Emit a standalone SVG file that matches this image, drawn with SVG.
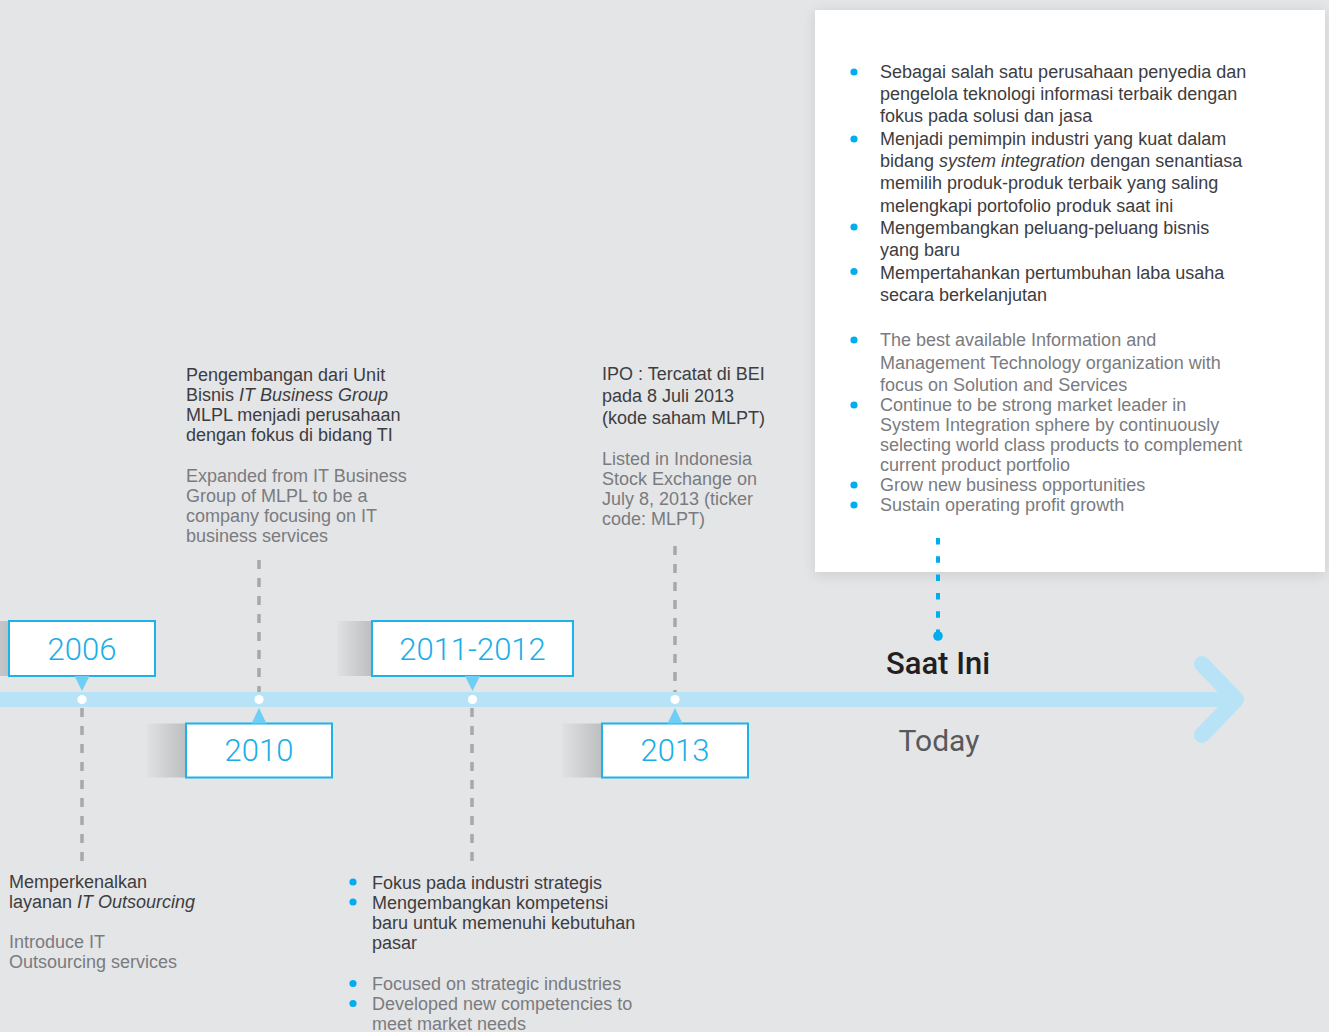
<svg xmlns="http://www.w3.org/2000/svg" width="1329" height="1032" viewBox="0 0 1329 1032">
<defs>
<style>
.t{font-family:"Liberation Sans",Arial,sans-serif;font-size:18px;fill:#3d3d3f}
.g{font-family:"Liberation Sans",Arial,sans-serif;font-size:18px;fill:#7a7b7e}
.yr{font-family:Roboto,"DejaVu Sans",sans-serif;font-size:31px;font-weight:300;fill:#1aaee8;text-anchor:middle}
.box{fill:#fff;stroke:#1cb2ea;stroke-width:2}
.ptr{fill:#6dcff6}
.dot{fill:#fff}
.bul{fill:#00aeef}
.dash{stroke:#a7a8aa;stroke-width:3.5;stroke-dasharray:9 9;fill:none}
</style>
<linearGradient id="sh" x1="0" y1="0" x2="1" y2="0">
<stop offset="0" stop-color="#e0e1e3"/>
<stop offset="1" stop-color="#bdbec0"/>
</linearGradient>
<filter id="bs" x="-10%" y="-10%" width="120%" height="120%">
<feGaussianBlur stdDeviation="7"/>
</filter>
</defs>
<rect x="0" y="0" width="1329" height="1032" fill="#e4e5e7"/>

<g id="timeline">
<rect x="0" y="692" width="1232" height="15" fill="#b8e3f7"/>
<path d="M1202,664 L1236,699.5 L1202,735" fill="none" stroke="#b8e3f7" stroke-width="16" stroke-linecap="round" stroke-linejoin="round"/>
</g>

<g id="connectors">
<line class="dash" x1="82" y1="708" x2="82" y2="862"/>
<line class="dash" x1="259" y1="560" x2="259" y2="692"/>
<line class="dash" x1="472" y1="708" x2="472" y2="862"/>
<line class="dash" x1="675" y1="546" x2="675" y2="692"/>
</g>

<g id="today-box">
<rect x="815" y="12" width="510" height="563" fill="#000" opacity="0.1" filter="url(#bs)"/>
<rect x="815" y="10" width="510" height="562" fill="#fff"/>
<circle class="bul" cx="854" cy="72" r="3.6"/>
<circle class="bul" cx="854" cy="139" r="3.6"/>
<circle class="bul" cx="854" cy="227" r="3.6"/>
<circle class="bul" cx="854" cy="271.5" r="3.6"/>
<text class="t" x="880" y="78">Sebagai salah satu perusahaan penyedia dan</text>
<text class="t" x="880" y="100">pengelola teknologi informasi terbaik dengan</text>
<text class="t" x="880" y="122">fokus pada solusi dan jasa</text>
<text class="t" x="880" y="144.5">Menjadi pemimpin industri yang kuat dalam</text>
<text class="t" x="880" y="167">bidang <tspan font-style="italic">system integration</tspan> dengan senantiasa</text>
<text class="t" x="880" y="189">memilih produk-produk terbaik yang saling</text>
<text class="t" x="880" y="211.5">melengkapi portofolio produk saat ini</text>
<text class="t" x="880" y="234">Mengembangkan peluang-peluang bisnis</text>
<text class="t" x="880" y="256">yang baru</text>
<text class="t" x="880" y="278.5">Mempertahankan pertumbuhan laba usaha</text>
<text class="t" x="880" y="300.5">secara berkelanjutan</text>
<circle class="bul" cx="854" cy="340" r="3.6"/>
<circle class="bul" cx="854" cy="405" r="3.6"/>
<circle class="bul" cx="854" cy="485" r="3.6"/>
<circle class="bul" cx="854" cy="505" r="3.6"/>
<text class="g" x="880" y="346">The best available Information and</text>
<text class="g" x="880" y="368.5">Management Technology organization with</text>
<text class="g" x="880" y="391">focus on Solution and Services</text>
<text class="g" x="880" y="411">Continue to be strong market leader in</text>
<text class="g" x="880" y="431">System Integration sphere by continuously</text>
<text class="g" x="880" y="451">selecting world class products to complement</text>
<text class="g" x="880" y="471">current product portfolio</text>
<text class="g" x="880" y="491">Grow new business opportunities</text>
<text class="g" x="880" y="511">Sustain operating profit growth</text>
</g>

<g id="today">
<path d="M938,538 L938,636" stroke="#00aeef" stroke-width="4" stroke-dasharray="6.5 11.8" fill="none"/>
<circle cx="938" cy="636" r="4.8" fill="#00aeef"/>
<text x="938" y="674" font-family="Roboto,'DejaVu Sans',sans-serif" font-size="31" font-weight="500" fill="#231f20" text-anchor="middle">Saat Ini</text>
<text x="939" y="751" font-family="Roboto,'DejaVu Sans',sans-serif" font-size="30" fill="#58595b" text-anchor="middle">Today</text>
</g>

<g id="y2006">
<rect x="-29" y="621" width="38" height="55" fill="url(#sh)"/>
<rect class="box" x="9" y="621" width="146" height="55"/>
<text class="yr" x="82" y="660">2006</text>
<polygon class="ptr" points="74.5,676 89.5,676 82,691"/>
<circle class="dot" cx="82" cy="699.5" r="4.6"/>
<text class="t" x="9" y="888">Memperkenalkan</text>
<text class="t" x="9" y="908">layanan <tspan font-style="italic">IT Outsourcing</tspan></text>
<text class="g" x="9" y="948">Introduce IT</text>
<text class="g" x="9" y="968">Outsourcing services</text>
</g>

<g id="y2010">
<rect x="147" y="723.5" width="39" height="54" fill="url(#sh)"/>
<rect class="box" x="186" y="723.5" width="146" height="54"/>
<text class="yr" x="259" y="761">2010</text>
<polygon class="ptr" points="251.5,723.5 266.5,723.5 259,708"/>
<circle class="dot" cx="259" cy="699.5" r="4.6"/>
<text class="t" x="186" y="380.5">Pengembangan dari Unit</text>
<text class="t" x="186" y="400.5">Bisnis <tspan font-style="italic">IT Business Group</tspan></text>
<text class="t" x="186" y="420.5">MLPL menjadi perusahaan</text>
<text class="t" x="186" y="440.5">dengan fokus di bidang TI</text>
<text class="g" x="186" y="481.5">Expanded from IT Business</text>
<text class="g" x="186" y="501.5">Group of MLPL to be a</text>
<text class="g" x="186" y="521.5">company focusing on IT</text>
<text class="g" x="186" y="541.5">business services</text>
</g>

<g id="y2011">
<rect x="337" y="621" width="35" height="55" fill="url(#sh)"/>
<rect class="box" x="372" y="621" width="201" height="55"/>
<text class="yr" x="472.5" y="660">2011-2012</text>
<polygon class="ptr" points="465,676 480,676 472.5,691"/>
<circle class="dot" cx="472.5" cy="699.5" r="4.6"/>
<circle class="bul" cx="353" cy="882" r="3.6"/>
<circle class="bul" cx="353" cy="902" r="3.6"/>
<text class="t" x="372" y="888.5">Fokus pada industri strategis</text>
<text class="t" x="372" y="908.5">Mengembangkan kompetensi</text>
<text class="t" x="372" y="928.5">baru untuk memenuhi kebutuhan</text>
<text class="t" x="372" y="948.5">pasar</text>
<circle class="bul" cx="353" cy="983.5" r="3.6"/>
<circle class="bul" cx="353" cy="1003.5" r="3.6"/>
<text class="g" x="372" y="989.5">Focused on strategic industries</text>
<text class="g" x="372" y="1009.5">Developed new competencies to</text>
<text class="g" x="372" y="1029.5">meet market needs</text>
</g>

<g id="y2013">
<rect x="562" y="723.5" width="40" height="54" fill="url(#sh)"/>
<rect class="box" x="602" y="723.5" width="146" height="54"/>
<text class="yr" x="675" y="761">2013</text>
<polygon class="ptr" points="667.5,723.5 682.5,723.5 675,708"/>
<circle class="dot" cx="675" cy="699.5" r="4.6"/>
<text class="t" x="602" y="380">IPO : Tercatat di BEI</text>
<text class="t" x="602" y="402">pada 8 Juli 2013</text>
<text class="t" x="602" y="424">(kode saham MLPT)</text>
<text class="g" x="602" y="465">Listed in Indonesia</text>
<text class="g" x="602" y="485">Stock Exchange on</text>
<text class="g" x="602" y="505">July 8, 2013 (ticker</text>
<text class="g" x="602" y="525">code: MLPT)</text>
</g>
</svg>
